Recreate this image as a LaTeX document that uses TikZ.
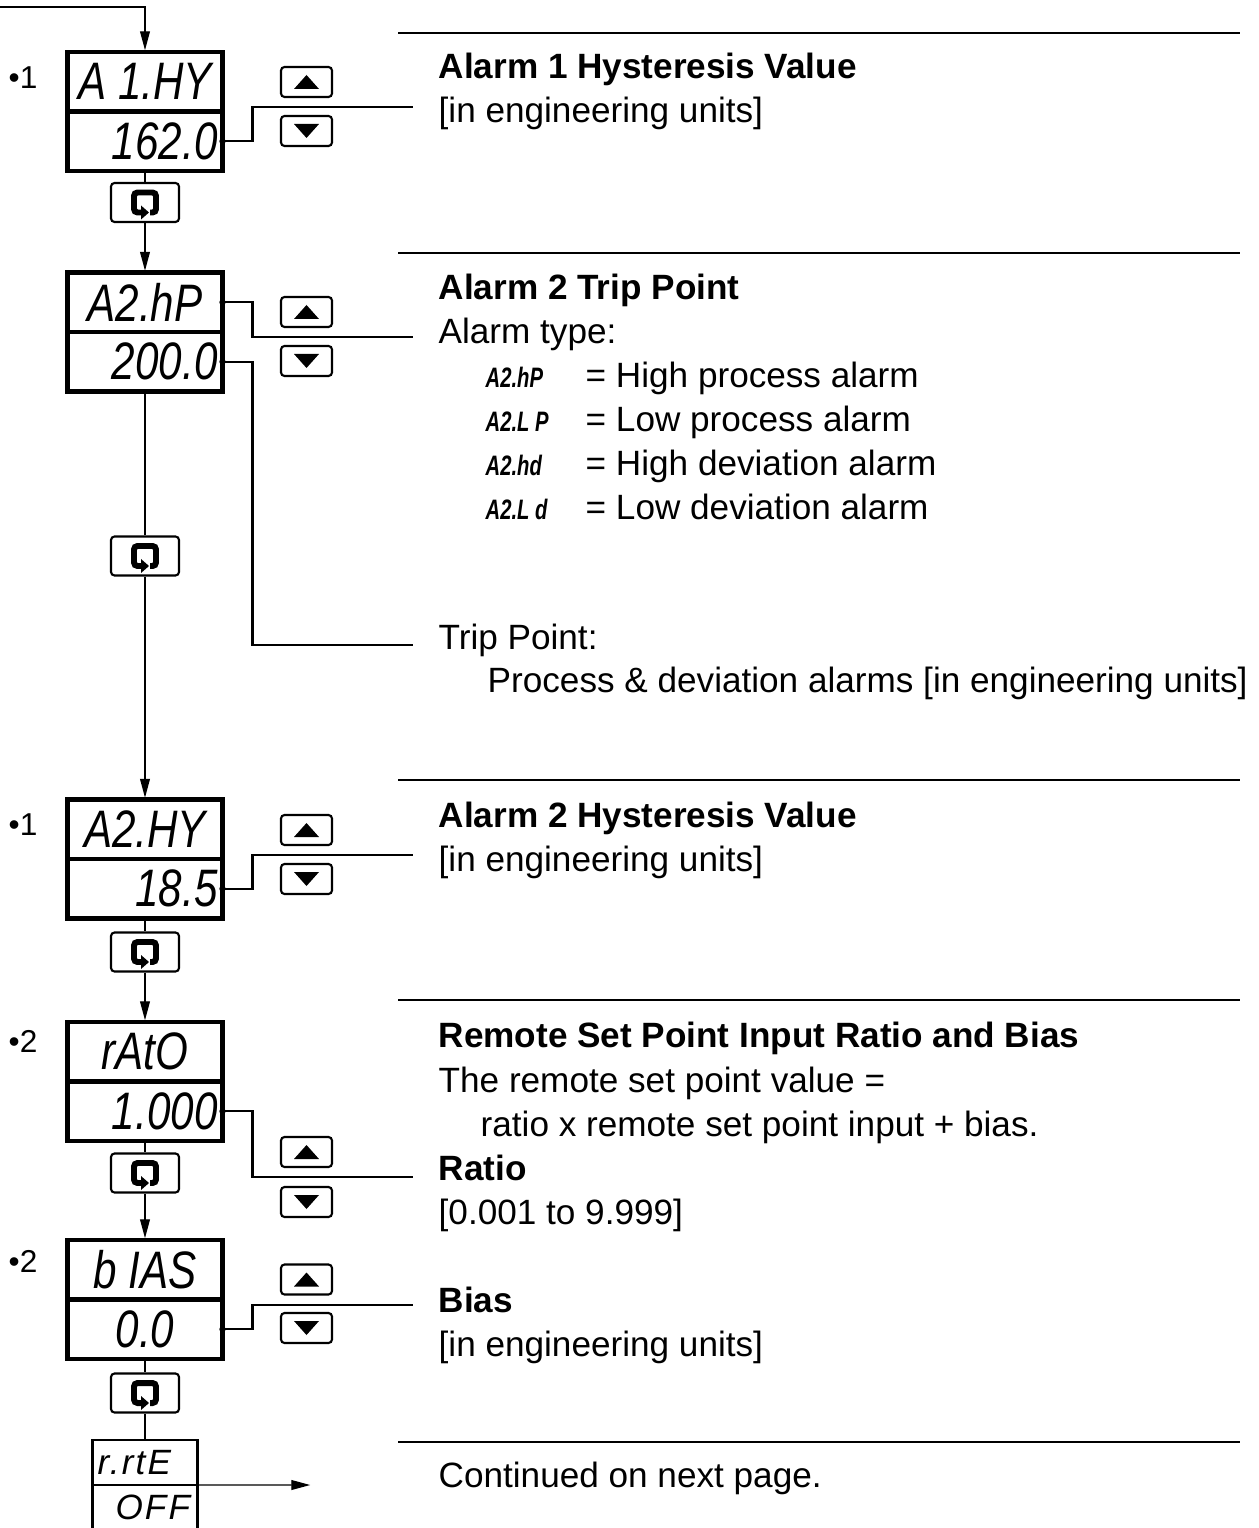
\documentclass[tikz,border=0pt]{standalone}
\usepackage{fontspec}
\setmainfont{Liberation Sans}
\newfontfamily\segfont{Liberation Sans}
\usetikzlibrary{arrows.meta}

% display lettering
\newcommand{\seg}[1]{\scalebox{0.8}[1]{\segfont\itshape\fontsize{15}{15}\selectfont #1}}
\newcommand{\segsm}[1]{\scalebox{0.72}[1]{\segfont\itshape\bfseries\fontsize{8}{9}\selectfont #1}}
\newcommand{\segmini}[1]{{\segfont\itshape\addfontfeature{LetterSpace=6}\fontsize{10}{10}\selectfont #1}}

\begin{document}
\begin{tikzpicture}[
   disp/.style={draw,line width=1.15pt,minimum width=1.55cm,minimum height=0.595cm,
      inner sep=0pt,outer sep=0pt},
   dispr/.style={disp,text width=1.45cm,align=right},
   minidisp/.style={draw,line width=0.6pt,minimum width=1.05cm,minimum height=0.45cm,
      inner sep=0pt,outer sep=0pt},
   key/.style={draw,line width=0.6pt,rounded corners=1pt,minimum width=0.51cm,
      minimum height=0.30cm,inner sep=0pt},
   upkey/.style={key,path picture={\fill[sharp corners,shift={(path picture bounding box.center)}]
      (-0.125,-0.07) -- (0.125,-0.07) -- (0,0.07) -- cycle;}},
   downkey/.style={key,path picture={\fill[sharp corners,shift={(path picture bounding box.center)}]
      (-0.125,0.07) -- (0.125,0.07) -- (0,-0.07) -- cycle;}},
   scrollkey/.style={key,minimum width=0.68cm,minimum height=0.39cm,
      path picture={
         \begin{scope}[shift={(path picture bounding box.center)}]
            \draw[line width=1.7pt,rounded corners=1pt] (-0.03,-0.1) -- (-0.11,-0.1)
               -- (-0.11,0.1) -- (0.11,0.1) -- (0.11,-0.1) -- (0.05,-0.1);
            \fill[sharp corners] (-0.04,-0.03) -- (0.04,-0.1) -- (-0.04,-0.17) -- cycle;
         \end{scope}}},
   conn/.style={line width=0.65pt},
   flow/.style={line width=0.4pt},
   flowarrow/.style={flow,-{Triangle[length=5.4pt,width=2.8pt]},shorten >=0.5pt},
   sepline/.style={line width=0.75pt},
   txt/.style={anchor=base west,inner sep=0pt},
   head/.style={txt,font=\bfseries},
   tag/.style={anchor=west,inner sep=0pt,font=\fontsize{9}{10}\selectfont}
]
   \useasboundingbox (0,0) rectangle (12.58,-15.28);

   % displays
   \node[disp] (d1a) at (1.45,-0.8175) {\seg{A 1.HY}};
   \node[dispr] (d1b) at (1.45,-1.4125) {\seg{162.0}};
   \node[disp] (d2a) at (1.45,-3.0225) {\seg{A2.hP}};
   \node[dispr] (d2b) at (1.45,-3.6175) {\seg{200.0}};
   \node[disp] (d3a) at (1.45,-8.2925) {\seg{A2.HY}};
   \node[dispr] (d3b) at (1.45,-8.8875) {\seg{18.5}};
   \node[disp] (d4a) at (1.45,-10.5175) {\seg{rAtO}};
   \node[dispr] (d4b) at (1.45,-11.1125) {\seg{1.000}};
   \node[disp] (d5a) at (1.45,-12.6975) {\seg{b IAS}};
   \node[disp] (d5b) at (1.45,-13.2925) {\seg{0.0}};
   \node[minidisp,text width=0.95cm] (d6a) at (1.45,-14.625) {\segmini{r.rtE}};
   \node[minidisp,text width=0.9cm,align=right] (d6b) at (1.45,-15.075) {\segmini{OFF}};

   \node[tag] (n1) at (0.08,-0.78) {•1};
   \node[tag] (n3) at (0.08,-8.25) {•1};
   \node[tag] (n4) at (0.08,-10.41) {•2};
   \node[tag] (n5) at (0.08,-12.61) {•2};

   % keys
   \node[upkey] (u1) at (3.065,-0.82) {};
   \node[downkey] (w1) at (3.065,-1.31) {};
   \node[upkey] (u2) at (3.065,-3.12) {};
   \node[downkey] (w2) at (3.065,-3.61) {};
   \node[upkey] (u3) at (3.065,-8.30) {};
   \node[downkey] (w3) at (3.065,-8.79) {};
   \node[upkey] (u4) at (3.065,-11.52) {};
   \node[downkey] (w4) at (3.065,-12.02) {};
   \node[upkey] (u5) at (3.065,-12.795) {};
   \node[downkey] (w5) at (3.065,-13.28) {};

   \node[scrollkey] (k1) at (1.45,-2.025) {};
   \node[scrollkey] (k2) at (1.45,-5.56) {};
   \node[scrollkey] (k3) at (1.45,-9.52) {};
   \node[scrollkey] (k4) at (1.45,-11.73) {};
   \node[scrollkey] (k5) at (1.45,-13.93) {};

   % flow
   \coordinate (in) at (0,-0.07);
   \coordinate (out) at (3.12,-14.85);
   \draw[flowarrow] (in) -| (d1a.north);
   \draw[flow] (d1b) -- (k1);
   \draw[flowarrow] (k1) -- (d2a);
   \draw[flow] (d2b) -- (k2);
   \draw[flowarrow] (k2) -- (d3a);
   \draw[flow] (d3b) -- (k3);
   \draw[flowarrow] (k3) -- (d4a);
   \draw[flow] (d4b) -- (k4);
   \draw[flowarrow] (k4) -- (d5a);
   \draw[flow] (d5b) -- (k5);
   \draw[flow] (k5) -- (d6a);
   \draw[flowarrow] (d6a.south east) -- (out);

   % leaders to the text column
   \coordinate (e1) at (4.13,-1.07);
   \coordinate (e2a) at (4.13,-3.37);
   \coordinate (e2b) at (4.13,-6.45);
   \coordinate (e3) at (4.13,-8.55);
   \coordinate (e4) at (4.13,-11.77);
   \coordinate (e5) at (4.13,-13.05);
   \draw[conn] (d1b.east) -- ++(0.3,0) |- (e1);
   \draw[conn] (d2a.east) -- ++(0.3,0) |- (e2a);
   \draw[conn] (d2b.east) -- ++(0.3,0) |- (e2b);
   \draw[conn] (d3b.east) -- ++(0.3,0) |- (e3);
   \draw[conn] (d4b.east) -- ++(0.3,0) |- (e4);
   \draw[conn] (d5b.east) -- ++(0.3,0) |- (e5);
   \foreach \x in {d1b,d2a,d2b,d3b,d4b,d5b}
      \fill (\x.east) circle (0.032);

   % separators
   \foreach \y in {-0.33,-2.53,-7.80,-10.00,-14.42}
      \draw[sepline] (3.98,\y) -- (12.40,\y);

   % text column
   \node[head] (t1a) at (4.38,-0.785) {Alarm 1 Hysteresis Value};
   \node[txt] (t1b) at (4.38,-1.23) {[in engineering units]};

   \node[head] (t2a) at (4.38,-2.995) {Alarm 2 Trip Point};
   \node[txt] (t2b) at (4.38,-3.435) {Alarm type:};
   \node[txt] (c1) at (4.85,-3.875) {\segsm{A2.hP}};
   \node[txt] (l1) at (5.85,-3.875) {= High process alarm};
   \node[txt] (c2) at (4.85,-4.315) {\segsm{A2.L P}};
   \node[txt] (l2) at (5.85,-4.315) {= Low process alarm};
   \node[txt] (c3) at (4.85,-4.755) {\segsm{A2.hd}};
   \node[txt] (l3) at (5.85,-4.755) {= High deviation alarm};
   \node[txt] (c4) at (4.85,-5.195) {\segsm{A2.L d}};
   \node[txt] (l4) at (5.85,-5.195) {= Low deviation alarm};
   \node[txt] (t2c) at (4.38,-6.50) {Trip Point:};
   \node[txt] (t2d) at (4.87,-6.92) {Process \& deviation alarms [in engineering units]};

   \node[head] (t3a) at (4.38,-8.275) {Alarm 2 Hysteresis Value};
   \node[txt] (t3b) at (4.38,-8.715) {[in engineering units]};

   \node[head] (t4a) at (4.38,-10.475) {Remote Set Point Input Ratio and Bias};
   \node[txt] (t4b) at (4.38,-10.925) {The remote set point value =};
   \node[txt] (t4c) at (4.80,-11.365) {ratio x remote set point input + bias.};
   \node[head] (t4d) at (4.38,-11.805) {Ratio};
   \node[txt] (t4e) at (4.38,-12.245) {[0.001 to 9.999]};

   \node[head] (t5a) at (4.38,-13.125) {Bias};
   \node[txt] (t5b) at (4.38,-13.565) {[in engineering units]};

   \node[txt] (t6) at (4.38,-14.87) {Continued on next page.};
\end{tikzpicture}
\end{document}
